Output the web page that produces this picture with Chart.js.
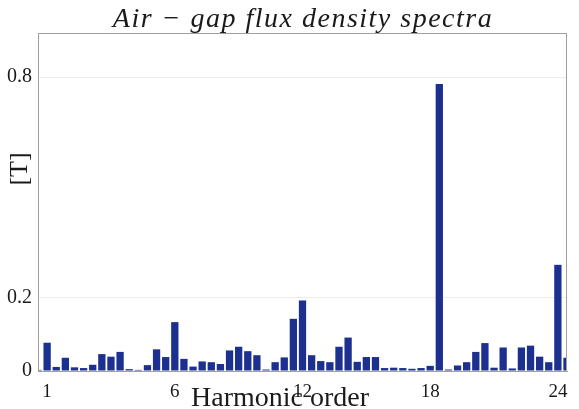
<!DOCTYPE html>
<html>
<head>
<meta charset="utf-8">
<script src="https://cdn.jsdelivr.net/npm/chart.js@4"></script>
<style>
  html, body { margin: 0; padding: 0; background: #fff; }
  #wrap { width: 579px; height: 409px; }
</style>
</head>
<body>
<div id="wrap"><canvas id="fluxChart" width="579" height="409"></canvas></div>
<script>
// Bar amplitudes [T], read left to right (first and last bar are half clipped)
const fluxDensity = [
    0.003, 0.077, 0.011, 0.036, 0.010, 0.008, 0.017, 0.046, 0.039, 0.052,
    0.005, 0.003, 0.016, 0.059, 0.038, 0.133, 0.033, 0.012, 0.026, 0.024,
    0.019, 0.056, 0.066, 0.054, 0.043, 0.004, 0.024, 0.037, 0.142, 0.192,
    0.043, 0.027, 0.024, 0.066, 0.091, 0.025, 0.038, 0.038, 0.008, 0.009,
    0.008, 0.006, 0.008, 0.014, 0.781, 0.004, 0.015, 0.024, 0.052, 0.076,
    0.009, 0.064, 0.007, 0.064, 0.069, 0.039, 0.024, 0.289, 0.036
];
// x tick labels and the bar slot each one sits under
const harmonicLabels = ['1', '6', '12', '18', '24'];
const harmonicSlots = [1, 15, 29, 43, 57];
const yTicks = [0, 0.2, 0.8];

const titleText = 'Air \u2212 gap flux density spectra';
const xTitle = 'Harmonic order';
const yTitle = '[T]';

const slots = fluxDensity.map((v, i) => String(i));

const serif = "'Liberation Serif', 'DejaVu Serif', serif";

const textPlugin = {
    id: 'figureText',
    afterDraw(chart) {
        const ctx = chart.ctx;
        const area = chart.chartArea;
        ctx.save();
        // box round the plot
        ctx.strokeStyle = '#a0a0a0';
        ctx.lineWidth = 1;
        ctx.strokeRect(area.left + 0.5, area.top + 0.5, area.right - area.left - 1, area.bottom - area.top);
        ctx.fillStyle = '#1a1a1a';
        ctx.textAlign = 'center';
        ctx.textBaseline = 'alphabetic';
        ctx.font = 'italic 28px ' + serif;
        ctx.letterSpacing = '1.5px';
        ctx.fillText(titleText, 303, 27);
        ctx.letterSpacing = '0px';
        ctx.font = '28px ' + serif;
        ctx.fillText(xTitle, 280, 406);
        ctx.translate(27, 169);
        ctx.rotate(-Math.PI / 2);
        ctx.font = '26px ' + serif;
        ctx.fillText(yTitle, 0, 0);
        ctx.restore();
    }
};

new Chart(document.getElementById('fluxChart'), {
    type: 'bar',
    data: {
        labels: slots,
        datasets: [{
            data: fluxDensity,
            backgroundColor: '#1c308f',
            borderWidth: 0,
            barPercentage: 0.8,
            categoryPercentage: 1.0,
            clip: 0
        }]
    },
    options: {
        responsive: false,
        animation: false,
        layout: {
            padding: { left: 0, right: 12, top: 33, bottom: 0 }
        },
        scales: {
            x: {
                offset: false,
                grid: { display: false },
                border: { display: true, color: '#a0a0a0' },
                afterFit: scale => { scale.height = 38; },
                ticks: {
                    autoSkip: false,
                    maxRotation: 0,
                    minRotation: 0,
                    padding: 2,
                    color: '#1a1a1a',
                    font: { family: serif, size: 19 },
                    callback: function(value, index) {
                        const k = harmonicSlots.indexOf(index);
                        return k >= 0 ? harmonicLabels[k] : null;
                    }
                }
            },
            y: {
                min: 0,
                max: 0.92,
                afterFit: scale => { scale.width = 38; },
                afterBuildTicks: scale => {
                    scale.ticks = yTicks.map(v => ({ value: v }));
                },
                grid: { color: '#ececec', drawTicks: false },
                border: { display: true, color: '#a0a0a0' },
                ticks: {
                    padding: 6,
                    color: '#1a1a1a',
                    font: { family: serif, size: 20 },
                    callback: v => String(v)
                }
            }
        },
        plugins: {
            legend: { display: false },
            tooltip: { enabled: false }
        }
    },
    plugins: [textPlugin]
});
</script>
</body>
</html>
